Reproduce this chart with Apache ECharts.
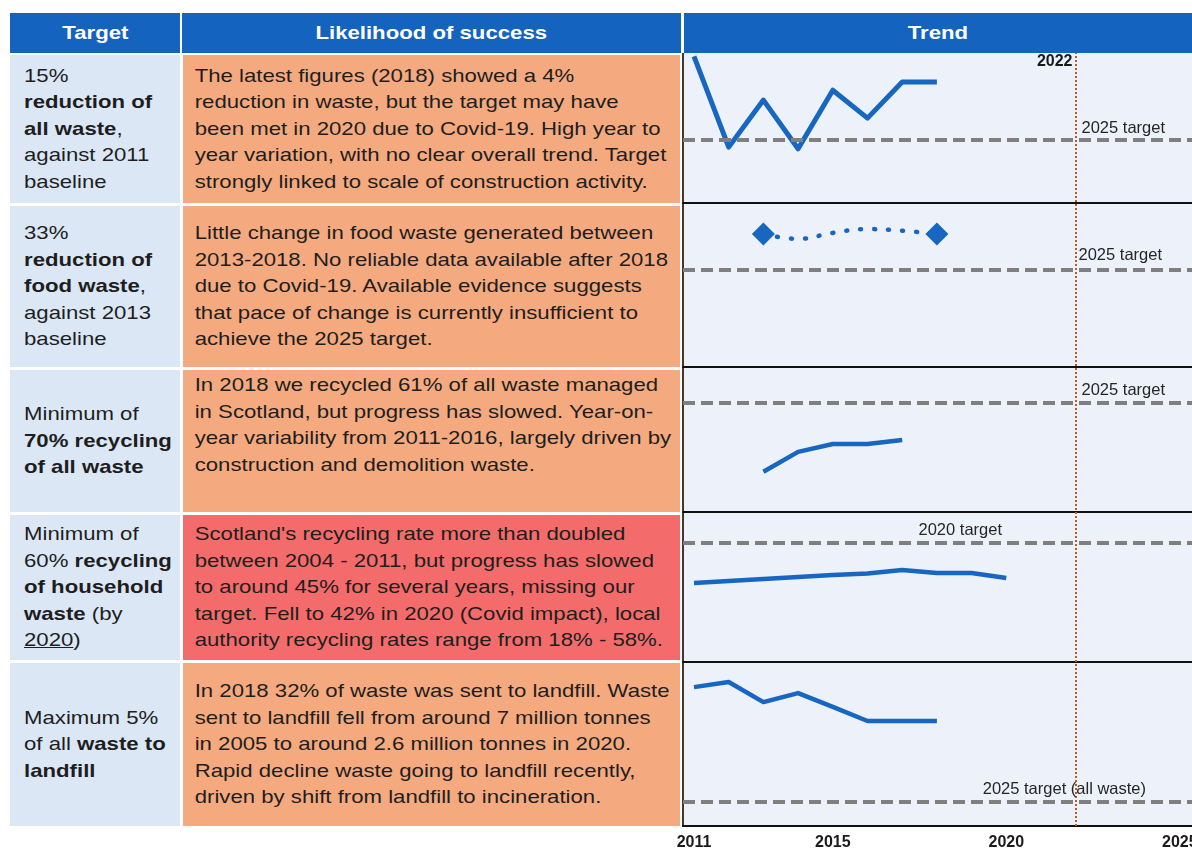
<!DOCTYPE html>
<html>
<head>
<meta charset="utf-8">
<script src="https://cdn.jsdelivr.net/npm/echarts@6/dist/echarts.min.js"></script>
<style>
  html, body { margin: 0; padding: 0; background: #fff; }
  body { width: 1192px; height: 848px; position: relative; overflow: hidden;
         font-family: "Liberation Sans", Arial, sans-serif; color: #1e1e1e; }
  .hd { position: absolute; top: 13px; height: 40px; background: #1463bf; color: #fff;
        font-weight: bold; font-size: 19px; display: flex; align-items: center; justify-content: center; }
  .hd span { display: inline-block; transform: scaleX(1.167); }
  .cell { position: absolute; display: flex; align-items: center; }
  .cell .tx { white-space: nowrap; font-size: 19px; line-height: 26.5px;
              transform: scaleX(1.167); transform-origin: 0 50%; }
  .tgt { left: 10px; width: 170px; background: #dbe7f5; }
  .tgt .tx { padding-left: 12px; }
  .lik { left: 183px; width: 497px; background: #f4aa7e; }
  .lik .tx { padding-left: 10px; }
  .red { background: #f36c6b; }
  #trend { position: absolute; left: 650px; top: 53px; width: 542px; height: 795px; }
</style>
</head>
<body>
<div id="table"></div>
<div id="trend"></div>
<script>
// header labels
var headers = ['Target', 'Likelihood of success', 'Trend'];

// target column (html, bold parts marked)
var targetText = [
    '15%<br><b>reduction of</b><br><b>all waste</b>,<br>against 2011<br>baseline',
    '33%<br><b>reduction of</b><br><b>food waste</b>,<br>against 2013<br>baseline',
    'Minimum of<br><b>70% recycling</b><br><b>of all waste</b>',
    'Minimum of<br>60% <b>recycling</b><br><b>of household</b><br><b>waste</b> (by<br><u>2020</u>)',
    'Maximum 5%<br>of all <b>waste to</b><br><b>landfill</b>'
];
var likelihoodText = [
    ['The latest figures (2018) showed a 4%', 'reduction in waste, but the target may have',
     'been met in 2020 due to Covid-19. High year to', 'year variation, with no clear overall trend. Target',
     'strongly linked to scale of construction activity.'],
    ['Little change in food waste generated between', '2013-2018. No reliable data available after 2018',
     'due to Covid-19. Available evidence suggests', 'that pace of change is currently insufficient to',
     'achieve the 2025 target.'],
    ['In 2018 we recycled 61% of all waste managed', 'in Scotland, but progress has slowed. Year-on-',
     'year variability from 2011-2016, largely driven by', 'construction and demolition waste.'],
    ["Scotland's recycling rate more than doubled", 'between 2004 - 2011, but progress has slowed',
     'to around 45% for several years, missing our', 'target. Fell to 42% in 2020 (Covid impact), local',
     'authority recycling rates range from 18% - 58%.'],
    ['In 2018 32% of waste was sent to landfill. Waste', 'sent to landfill fell from around 7 million tonnes',
     'in 2005 to around 2.6 million tonnes in 2020.', 'Rapid decline waste going to landfill recently,',
     'driven by shift from landfill to incineration.']
];

// trend data
var allWasteYears = [2011, 2012, 2013, 2014, 2015, 2016, 2017, 2018];
var allWaste = [100.3, 83.7, 92.3, 83.4, 94.1, 89.0, 95.6, 95.6];
var allWasteTarget = 85;

var foodYears = [2013, 2014, 2015, 2016, 2017, 2018];
var foodWaste = [100, 95.5, 101, 104.5, 103, 100];
var foodTarget = 67;

var recycleYears = [2013, 2014, 2015, 2016, 2017];
var recycleAll = [51.4, 56.8, 58.9, 58.9, 60.0];
var recycleTarget = 70;

var householdYears = [2011, 2012, 2013, 2014, 2015, 2016, 2017, 2018, 2019, 2020];
var household = [39.4, 40.4, 41.4, 42.5, 43.5, 44.3, 46.1, 44.5, 44.5, 42.0];
var householdTarget = 60;

var landfillYears = [2011, 2012, 2013, 2014, 2015, 2016, 2017, 2018];
var landfill = [43.3, 45.0, 38.3, 41.3, 36.7, 32.0, 32.0, 32.0];
var landfillTarget = 5;

var targetLabels = ['2025 target', '2025 target', '2025 target', '2020 target', '2025 target (all waste)'];
var axisYears = [2011, 2015, 2020, 2025];
var markYear = 2022;

// ---- table ----
var rows = [[55, 148], [206, 161], [370, 142], [515, 145], [663, 163]];
var html = '';
var hcols = [[10, 170], [182, 499], [684, 508]];
headers.forEach(function (h, i) {
    html += '<div class="hd" style="left:' + hcols[i][0] + 'px;width:' + hcols[i][1] + 'px"><span>' + h + '</span></div>';
});
rows.forEach(function (r, i) {
    html += '<div class="cell tgt" style="top:' + r[0] + 'px;height:' + r[1] + 'px"><div class="tx">' + targetText[i] + '</div></div>';
    var extra = i === 3 ? ' red' : '';
    var align = i === 2 ? 'align-items:flex-start;padding-top:2px;box-sizing:border-box;' : '';
    html += '<div class="cell lik' + extra + '" style="' + align + 'top:' + r[0] + 'px;height:' + r[1] + 'px"><div class="tx">' +
        likelihoodText[i].join('<br>') + '</div></div>';
});
document.getElementById('table').innerHTML = html;

// ---- trend charts ----
var blue = '#1766c2';
var LEFT = 33;
var grids = [[0, 150], [150, 164], [314, 145], [459, 150], [609, 164]];
var yRanges = [[73.48, 100.91], [-21.9, 128.4], [40.54, 79.73], [-1.34, 75.98], [-3, 51.67]];
var labelDist = [[27, 3], [30, 6], [27, 4], [190, 4], [46, 4]];
var X_MIN = 2010.683, X_MAX = 2025.352;

function pairs(xs, ys) {
    return xs.map(function (x, i) { return [x, ys[i]]; });
}

var grid = [], xAxis = [], yAxis = [], series = [];
grids.forEach(function (g, i) {
    grid.push({ left: LEFT, right: 0, top: g[0], height: g[1], outerBoundsMode: 'none' });
    xAxis.push({
        type: 'value', gridIndex: i, min: X_MIN, max: X_MAX,
        axisLine: { show: true, onZero: false, lineStyle: { color: '#111', width: 2 } },
        axisTick: { show: false }, axisLabel: { show: false }, splitLine: { show: false }
    });
    yAxis.push({ type: 'value', gridIndex: i, min: yRanges[i][0], max: yRanges[i][1], show: false });
});
// overlay grid for background, left border, 2022 line and year labels
grid.push({
    left: LEFT, right: 0, top: 0, height: 773, outerBoundsMode: 'none',
    show: true, backgroundColor: '#edf1f9', borderWidth: 0, z: -1
});
xAxis.push({
    type: 'value', gridIndex: 5, min: X_MIN, max: X_MAX,
    axisLine: { show: false }, axisTick: { show: false }, splitLine: { show: false },
    axisLabel: {
        customValues: axisYears, margin: 9, fontSize: 16, fontWeight: 'bold',
        fontFamily: 'Liberation Sans', color: '#1a1a1a',
        formatter: function (v) { return String(v); }
    }
});
yAxis.push({
    type: 'value', gridIndex: 5, min: 0, max: 1,
    axisLine: { show: true, onZero: false, lineStyle: { color: '#4a3428', width: 2 } },
    axisTick: { show: false }, axisLabel: { show: false }, splitLine: { show: false }
});

var trendData = [
    [allWasteYears, allWaste, allWasteTarget],
    [foodYears, foodWaste, foodTarget],
    [recycleYears, recycleAll, recycleTarget],
    [householdYears, household, householdTarget],
    [landfillYears, landfill, landfillTarget]
];

trendData.forEach(function (d, i) {
    var isFood = i === 1;
    var last = d[0].length - 1;
    series.push({
        type: 'line', xAxisIndex: i, yAxisIndex: i,
        data: pairs(d[0], d[1]),
        smooth: isFood ? 0.45 : false,
        symbol: isFood ? 'diamond' : 'none',
        symbolSize: function (v, p) { return (p.dataIndex === 0 || p.dataIndex === last) ? 23 : 0; },
        showSymbol: isFood,
        itemStyle: { color: blue },
        lineStyle: isFood ? { color: blue, width: 4.5, type: [1, 13], cap: 'round' }
                          : { color: blue, width: i === 0 ? 5 : 4.5, join: 'round' },
        z: 3,
        markLine: {
            silent: true, symbol: ['none', 'none'],
            lineStyle: { color: '#7f7f7f', width: 4, type: [12, 6] },
            label: {
                show: true, position: 'insideEndTop', distance: labelDist[i],
                formatter: targetLabels[i], fontSize: 16.5, fontFamily: 'Liberation Sans', color: '#262626'
            },
            data: [{ yAxis: d[2] }]
        }
    });
});

series.push({
    type: 'line', xAxisIndex: 5, yAxisIndex: 5, data: [[markYear, 0]], showSymbol: false,
    markLine: {
        silent: true, symbol: ['none', 'none'],
        lineStyle: { color: '#b0602c', width: 2, type: [2, 2] },
        label: { show: false },
        data: [{ xAxis: markYear }]
    },
    markPoint: {
        silent: true, symbol: 'circle', symbolSize: 0,
        label: {
            show: true, position: 'inside', offset: [-21, 9], formatter: String(markYear),
            fontSize: 16, fontWeight: 'bold', fontFamily: 'Liberation Sans', color: '#1a1a1a'
        },
        data: [{ coord: [markYear, 1] }]
    }
});

var chart = echarts.init(document.getElementById('trend'));
chart.setOption({
    animation: false,
    grid: grid,
    xAxis: xAxis,
    yAxis: yAxis,
    series: series
});
</script>
</body>
</html>
